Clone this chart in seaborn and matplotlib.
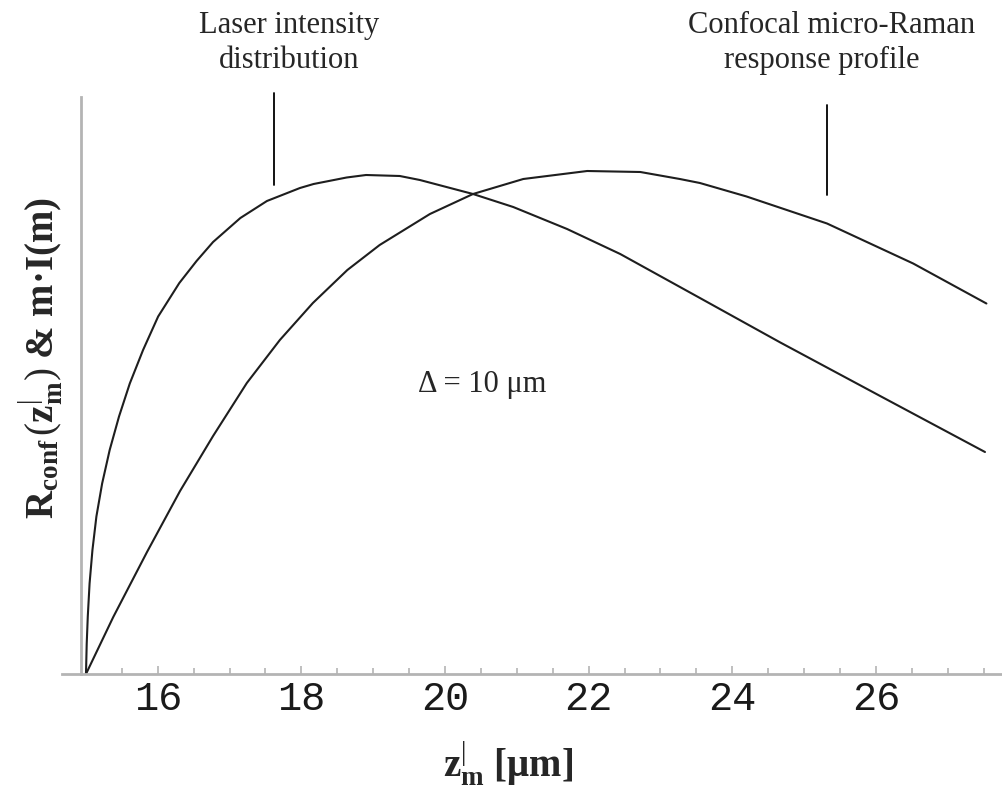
import numpy as np
import pandas as pd
import matplotlib
matplotlib.use("Agg")
import matplotlib.pyplot as plt
import seaborn as sns
from matplotlib.ticker import MultipleLocator

# ---- data ----
laser_x = [15.000, 15.010, 15.025, 15.050, 15.090, 15.145, 15.225, 15.330, 15.460,
           15.610, 15.795, 16.005, 16.300, 16.540, 16.770, 17.150, 17.520, 17.980,
           18.170, 18.630, 18.900, 19.370, 19.650, 20.390, 20.950, 21.700, 22.440,
           23.550, 24.670, 26.060, 27.520]
laser_y = [0.000, 0.060, 0.115, 0.181, 0.248, 0.315, 0.381, 0.448, 0.515,
           0.581, 0.648, 0.715, 0.782, 0.826, 0.864, 0.912, 0.946, 0.972,
           0.980, 0.993, 0.998, 0.996, 0.988, 0.960, 0.934, 0.890, 0.840,
           0.752, 0.663, 0.556, 0.444]

raman_x = [15.00, 15.38, 15.85, 16.31, 16.77, 17.24, 17.70, 18.16, 18.64, 19.09,
           19.79, 20.39, 21.09, 21.98, 22.72, 23.27, 23.55, 24.20, 25.32, 26.52,
           27.54]
raman_y = [0.000, 0.114, 0.244, 0.366, 0.476, 0.582, 0.668, 0.742, 0.808, 0.858,
           0.920, 0.960, 0.990, 1.006, 1.004, 0.990, 0.982, 0.955, 0.901, 0.821,
           0.741]

x_ticks = [16, 18, 20, 22, 24, 26]
x_tick_labels = ["16", "18", "20", "22", "24", "26"]

df = pd.concat([
    pd.DataFrame({"z": laser_x, "v": laser_y, "curve": "Laser intensity distribution"}),
    pd.DataFrame({"z": raman_x, "v": raman_y, "curve": "Confocal micro-Raman response profile"}),
])

sns.set_theme(style="white")
plt.rcParams["font.family"] = ["Liberation Serif", "DejaVu Serif"]
plt.rcParams["mathtext.fontset"] = "custom"
plt.rcParams["mathtext.rm"] = "Liberation Serif"
plt.rcParams["mathtext.it"] = "Liberation Serif:italic"
plt.rcParams["mathtext.bf"] = "Liberation Serif:bold"

fig = plt.figure(figsize=(10.02, 8.0), dpi=100)
ax = fig.add_axes([62 / 1002, 1 - 674 / 800, 940 / 1002, 577 / 800])

sns.lineplot(data=df, x="z", y="v", hue="curve", units="curve", estimator=None,
             palette=["#1e1e1e", "#1e1e1e"], linewidth=1.5, legend=False, ax=ax,
             sort=False)

ax.set_xlim(14.666, 27.757)
ax.set_ylim(0, 1.154)

axis_gray = "#b4b4b4"
for s in ["top", "right"]:
    ax.spines[s].set_visible(False)
ax.spines["left"].set_position(("data", 14.93))
ax.spines["bottom"].set_position(("data", 0))
for s in ["left", "bottom"]:
    ax.spines[s].set_color(axis_gray)
    ax.spines[s].set_linewidth(2.0)

ax.set_yticks([])
ax.set_xticks(x_ticks)
ax.set_xticklabels(x_tick_labels, fontfamily="Liberation Mono", fontsize=29,
                   color="#1a1a1a")
ax.xaxis.set_minor_locator(MultipleLocator(0.5))
ax.tick_params(axis="x", which="major", direction="in", length=6, width=1.2,
               color=axis_gray, pad=4.5, bottom=True)
ax.tick_params(axis="x", which="minor", direction="in", length=4, width=1.2,
               color=axis_gray, bottom=True)

# axis labels
ax.set_xlabel(r"$\mathbf{z}^{|}_{\mathbf{m}}$ [μm]", fontsize=28, fontweight="bold")
ax.xaxis.label.set_va("baseline")
ax.xaxis.set_label_coords((508 - 62) / 940, (674 - 777) / 577)

ax.set_ylabel(r"$\mathbf{R}_{\mathbf{conf}}\,(\mathbf{z}^{|}_{\mathbf{m}})$ & m·I(m)",
              fontsize=28, fontweight="bold")
ax.yaxis.label.set_va("center")
ax.yaxis.label.set_ha("center")
ax.yaxis.set_label_coords((41 - 62) / 940, (674 - 358) / 577)

# annotations
fs = 22
ax.text(17.83, 1.282, "Laser intensity", ha="center", va="baseline", fontsize=fs, clip_on=False)
ax.text(17.83, 1.212, "distribution", ha="center", va="baseline", fontsize=fs, clip_on=False)
ax.plot([17.62, 17.62], [0.978, 1.162], color="black", lw=1.3, clip_on=False)

ax.text(25.38, 1.282, "Confocal micro-Raman", ha="center", va="baseline", fontsize=fs, clip_on=False)
ax.text(25.25, 1.212, "response profile", ha="center", va="baseline", fontsize=fs, clip_on=False)
ax.plot([25.32, 25.32], [0.958, 1.138], color="black", lw=1.3, clip_on=False)

ax.text(20.52, 0.564, "Δ = 10 μm", ha="center", va="baseline", fontsize=fs)

fig.savefig("out.png", dpi=100)
